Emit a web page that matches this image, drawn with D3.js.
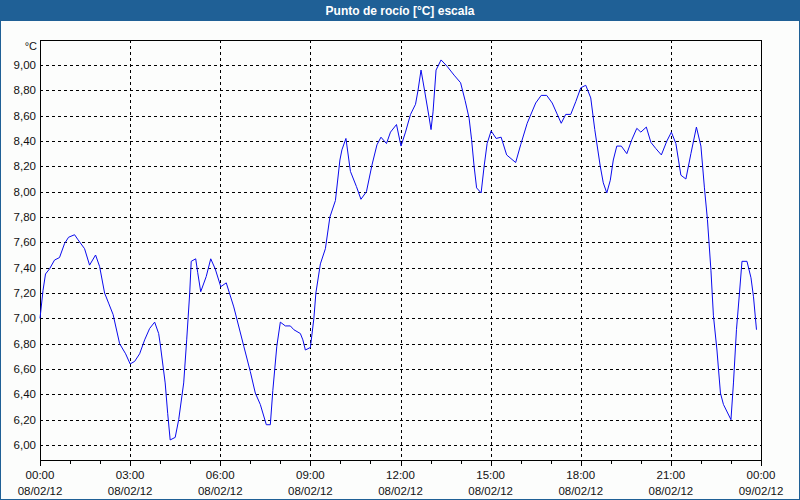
<!DOCTYPE html>
<html>
<head>
  <meta charset="utf-8">
  <title>Punto de rocío</title>
  <style>
    body { margin: 0; background: #fff; }
    svg { display: block; font-family: "Liberation Sans", Arial, sans-serif; }
  </style>
</head>
<body>
  <svg id="chart"></svg>

  <script src="https://d3js.org/d3.v7.min.js"></script>
  <script>
    // minutes after 08/02/12 00:00, and dew point in °C
    const minutesFromStart = [
      0, 6, 11, 19, 29, 39, 49, 57, 69, 76, 89, 99, 111, 119, 129, 137, 146, 159, 171, 180,
      189, 199, 209, 219, 229, 237, 240, 250, 255, 260, 270, 277, 287, 293, 299, 302, 311, 315, 321, 332,
      341, 350, 361, 372, 387, 407, 420, 430, 440, 452, 460, 465, 473, 480, 490, 500, 507, 520, 525, 530,
      540, 547, 551, 560, 570, 579, 590, 599, 603, 611, 620, 632, 641, 652, 663, 673, 681, 692, 700, 712,
      721, 730, 740, 750, 755, 761, 768, 777, 781, 785, 791, 801, 813, 827, 840, 849, 857, 862, 867, 872,
      881, 887, 893, 901, 911, 921, 932, 950, 960, 973, 990, 1001, 1012, 1023, 1032, 1041, 1050, 1060, 1070, 1080,
      1090, 1100, 1108, 1119, 1125, 1132, 1139, 1145, 1152, 1161, 1172, 1182, 1192, 1200, 1211, 1220, 1230, 1241, 1252, 1261,
      1270, 1280, 1290, 1300, 1311, 1320, 1327, 1333, 1340, 1345, 1352, 1359, 1365, 1380, 1385, 1391, 1397, 1402, 1412, 1420,
      1425, 1431
    ];
    const dewPoint = [
      7.00, 7.22, 7.35, 7.39, 7.46, 7.48, 7.59, 7.64, 7.66, 7.62, 7.55, 7.42, 7.50, 7.41, 7.20, 7.12, 7.03, 6.80, 6.72, 6.64,
      6.66, 6.72, 6.83, 6.92, 6.97, 6.88, 6.80, 6.49, 6.25, 6.04, 6.06, 6.20, 6.49, 6.83, 7.20, 7.45, 7.47, 7.36, 7.21, 7.33,
      7.47, 7.39, 7.25, 7.28, 7.09, 6.78, 6.58, 6.41, 6.32, 6.16, 6.16, 6.43, 6.78, 6.97, 6.94, 6.94, 6.91, 6.88, 6.83, 6.75,
      6.77, 7.00, 7.20, 7.43, 7.55, 7.80, 7.93, 8.25, 8.33, 8.42, 8.16, 8.04, 7.94, 8.00, 8.21, 8.37, 8.43, 8.38, 8.47, 8.53,
      8.36, 8.47, 8.61, 8.69, 8.80, 8.96, 8.80, 8.59, 8.49, 8.63, 8.96, 9.04, 8.99, 8.92, 8.86, 8.72, 8.58, 8.41, 8.20, 8.03,
      7.99, 8.20, 8.38, 8.48, 8.42, 8.43, 8.29, 8.23, 8.37, 8.54, 8.70, 8.76, 8.76, 8.70, 8.62, 8.54, 8.61, 8.61, 8.71, 8.82,
      8.84, 8.74, 8.49, 8.20, 8.07, 7.99, 8.09, 8.25, 8.36, 8.36, 8.30, 8.41, 8.50, 8.47, 8.51, 8.39, 8.34, 8.29, 8.40, 8.47,
      8.38, 8.13, 8.10, 8.30, 8.51, 8.36, 8.03, 7.78, 7.38, 7.02, 6.75, 6.41, 6.32, 6.20, 6.49, 6.91, 7.20, 7.45, 7.45, 7.32,
      7.17, 6.91
    ];
    const yTicks = [6.0, 6.2, 6.4, 6.6, 6.8, 7.0, 7.2, 7.4, 7.6, 7.8, 8.0, 8.2, 8.4, 8.6, 8.8, 9.0];
    const title = "Punto de rocío [°C] escala";
    const unit = "°C";

    const width = 800, height = 500;
    const plotLeft = 40, plotRight = 761, plotTop = 40, plotBottom = 460;
    const start = new Date(2012, 1, 8, 0, 0);
    const end = new Date(2012, 1, 9, 0, 0);

    const svg = d3.select("#chart").attr("width", width).attr("height", height);

    // background, border and title bar
    svg.append("rect").attr("x", 0.5).attr("y", 0.5).attr("width", width - 1).attr("height", height - 1)
      .attr("fill", "#fcfdfc").attr("stroke", "#1f6096");
    svg.append("rect").attr("x", 0).attr("y", 0).attr("width", width).attr("height", 21).attr("fill", "#1f6096");
    svg.append("text").attr("x", width / 2).attr("y", 15).attr("text-anchor", "middle")
      .attr("fill", "#fff").attr("font-weight", "bold").attr("font-size", "12px").text(title);

    const x = d3.scaleTime().domain([start, end]).range([plotLeft, plotRight]);
    const y = d3.scaleLinear().domain([6, 9]).range([445, 65]);

    const data = minutesFromStart.map((m, i) => ({ t: d3.timeMinute.offset(start, m), v: dewPoint[i] }));

    // grid
    const grid = svg.append("g").attr("stroke", "#000").attr("stroke-dasharray", "3,3").attr("shape-rendering", "crispEdges");
    grid.selectAll("line.h").data(yTicks).join("line")
      .attr("x1", plotLeft).attr("x2", plotRight)
      .attr("y1", d => Math.round(y(d)) + 0.5).attr("y2", d => Math.round(y(d)) + 0.5);
    const majorTimes = d3.timeHour.every(3).range(start, d3.timeMinute.offset(end, 1));
    grid.selectAll("line.v").data(majorTimes.slice(1, -1)).join("line")
      .attr("y1", plotTop).attr("y2", plotBottom)
      .attr("x1", d => Math.round(x(d)) + 0.5).attr("x2", d => Math.round(x(d)) + 0.5);

    // plot frame
    svg.append("rect").attr("x", plotLeft + 0.5).attr("y", plotTop + 0.5)
      .attr("width", plotRight - plotLeft).attr("height", plotBottom - plotTop)
      .attr("fill", "none").attr("stroke", "#000").attr("shape-rendering", "crispEdges");

    // x axis ticks and labels
    const hours = d3.timeHour.every(1).range(start, d3.timeMinute.offset(end, 1));
    svg.append("g").selectAll("line").data(hours).join("line")
      .attr("x1", d => Math.round(x(d)) + 0.5).attr("x2", d => Math.round(x(d)) + 0.5)
      .attr("y1", plotBottom).attr("y2", d => plotBottom + (d.getHours() % 3 === 0 ? 6 : 4))
      .attr("stroke", "#000").attr("shape-rendering", "crispEdges");

    const fmtTime = d3.timeFormat("%H:%M"), fmtDate = d3.timeFormat("%d/%m/%y");
    const xl = svg.append("g").attr("font-size", "11.5px").attr("fill", "#111").attr("text-anchor", "middle")
      .selectAll("g").data(majorTimes).join("g")
      .attr("transform", d => `translate(${x(d)},0)`);
    xl.append("text").attr("y", 479).text(fmtTime);
    xl.append("text").attr("y", 495).text(fmtDate);

    // y labels
    const fmtY = v => d3.format(".2f")(v).replace(".", ",");
    svg.append("g").attr("font-size", "11.5px").attr("fill", "#111").attr("text-anchor", "end")
      .selectAll("text").data(yTicks).join("text")
      .attr("x", 36).attr("y", d => y(d)).attr("dy", "0.35em").text(fmtY);
    svg.append("text").attr("x", 37).attr("y", 50).attr("text-anchor", "end")
      .attr("font-size", "11px").attr("fill", "#111").text(unit);

    // line
    const line = d3.line().x(d => x(d.t)).y(d => y(d.v));
    svg.append("path").datum(data).attr("d", line)
      .attr("fill", "none").attr("stroke", "#0a0aee").attr("stroke-width", 1);
  </script>
</body>
</html>
